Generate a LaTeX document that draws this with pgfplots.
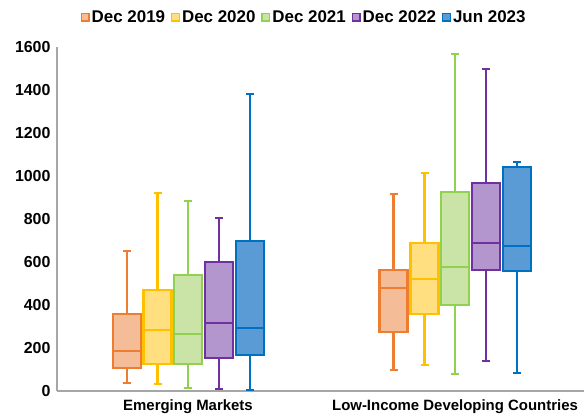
\documentclass[border=0pt]{standalone}
\usepackage{fontspec}
\setmainfont{Liberation Sans}
\usepackage{pgfplots}
\pgfplotsset{compat=1.18}
\usepgfplotslibrary{statistics}
\definecolor{oL}{HTML}{ED7D31}\definecolor{oF}{HTML}{F5BD97}
\definecolor{yL}{HTML}{FFC000}\definecolor{yF}{HTML}{FFDF80}
\definecolor{gL}{HTML}{92D050}\definecolor{gF}{HTML}{C9E4A6}
\definecolor{pL}{HTML}{7030A0}\definecolor{pF}{HTML}{B496CE}
\definecolor{bL}{HTML}{0070C0}\definecolor{bF}{HTML}{5B9BD5}
\definecolor{axc}{HTML}{A6A6A6}
\pgfplotsset{
  bx/.style n args={2}{draw=#1, fill=#2, line width=2.1bp, solid,
    boxplot/draw direction=y,
    boxplot/box extend=28, boxplot/whisker extend=8,
    legend image code/.code={\draw[draw=#1, fill=#2, line width=1.3bp] (0bp,-3.8bp) rectangle (7.6bp,3.8bp);}},
}
\begin{document}
\begin{tikzpicture}
\begin{axis}[
  at={(0,0)}, anchor=south west,
  scale only axis, width=527bp, height=344bp,
  xmin=57, xmax=584, ymin=0, ymax=1600,
  axis x line*=bottom, axis y line*=left,
  axis line style={draw=axc, line width=1.3bp, -},
  xtick={188,455}, xticklabels={Emerging Markets, Low-Income Developing Countries},
  ytick={0,200,...,1600},
  major tick length=0pt,
  yticklabel style={font=\fontsize{16}{19}\selectfont\bfseries, xshift=-3bp},
  xticklabel style={font=\fontsize{15}{18}\selectfont\bfseries, yshift=-5bp},
  /pgf/number format/assume math mode=true,
  /pgf/number format/1000 sep={},
  legend columns=5,
  legend style={draw=none, fill=none, at={(0.469,1.087)}, anchor=center,
    font=\fontsize{17}{20}\selectfont\bfseries,
    /tikz/every even column/.append style={column sep=4bp},
    inner sep=0pt},
  legend cell align=left,
]
% Emerging Markets
\addplot[bx={oL}{oF}, boxplot prepared={draw position=126.7, lower whisker=36, lower quartile=106, median=187, upper quartile=359, upper whisker=651}] coordinates {};
\addplot[bx={yL}{yF}, boxplot prepared={draw position=157.5, lower whisker=33, lower quartile=126, median=282, upper quartile=468, upper whisker=920}] coordinates {};
\addplot[bx={gL}{gF}, boxplot prepared={draw position=188, lower whisker=14, lower quartile=127, median=267, upper quartile=540, upper whisker=884}] coordinates {};
\addplot[bx={pL}{pF}, boxplot prepared={draw position=219, lower whisker=8, lower quartile=155, median=316, upper quartile=598, upper whisker=805}] coordinates {};
\addplot[bx={bL}{bF}, boxplot prepared={draw position=250, lower whisker=5, lower quartile=166, median=295, upper quartile=698, upper whisker=1381}] coordinates {};
\legend{Dec 2019, Dec 2020, Dec 2021, Dec 2022, Jun 2023}
% LIDCs
\addplot[bx={oL}{oF}, boxplot prepared={draw position=393.5, lower whisker=98, lower quartile=273, median=479, upper quartile=564, upper whisker=918}] coordinates {};
\addplot[bx={yL}{yF}, boxplot prepared={draw position=424.5, lower whisker=121, lower quartile=358, median=522, upper quartile=688, upper whisker=1014}] coordinates {};
\addplot[bx={gL}{gF}, boxplot prepared={draw position=455, lower whisker=80, lower quartile=400, median=577, upper quartile=927, upper whisker=1569}] coordinates {};
\addplot[bx={pL}{pF}, boxplot prepared={draw position=486, lower whisker=141, lower quartile=561, median=690, upper quartile=969, upper whisker=1499}] coordinates {};
\addplot[bx={bL}{bF}, boxplot prepared={draw position=517, lower whisker=82, lower quartile=558, median=673, upper quartile=1042, upper whisker=1065}] coordinates {};
\end{axis}
\pgfresetboundingbox
\path (-57bp,-27bp) rectangle (527bp,391bp);
\end{tikzpicture}
\end{document}
